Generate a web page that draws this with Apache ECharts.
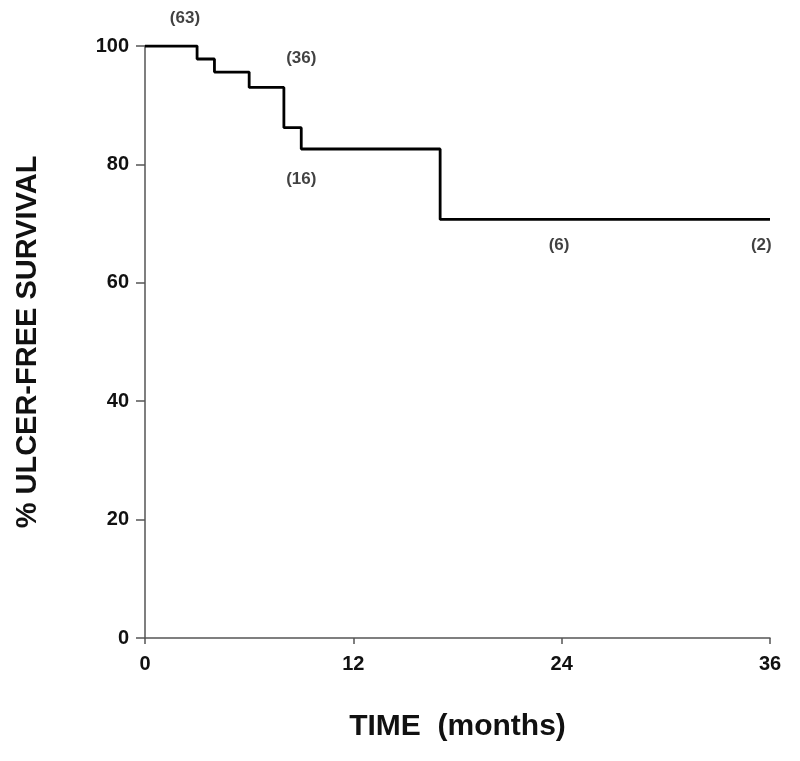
<!DOCTYPE html>
<html>
<head>
<meta charset="utf-8">
<script src="https://cdn.jsdelivr.net/npm/echarts@6/dist/echarts.min.js"></script>
<style>html,body{margin:0;padding:0;background:#fff}#c{width:800px;height:761px}</style>
</head>
<body>
<div id="c"></div>
<script>
// Kaplan-Meier step data (months, % ulcer-free)
const stepTimes = [0, 3, 4, 6, 8, 9, 17, 36];
const stepValues = [100, 97.8, 95.6, 93.0, 86.2, 82.6, 70.7, 70.7];
// Number-at-risk annotations
const atRiskTimes = [2.3, 9.0, 9.0, 23.85, 35.5];
const atRiskLevels = [104.6, 97.9, 77.4, 66.3, 66.3];
const atRiskCounts = ['(63)', '(36)', '(16)', '(6)', '(2)'];
const xTicks = [0, 12, 24, 36];

const font = '"Liberation Sans", Arial, Helvetica, sans-serif';
const chart = echarts.init(document.getElementById('c'));
chart.setOption({
  animation: false,
  backgroundColor: '#fff',
  grid: { left: 145, right: 30, top: 46, bottom: 123 },
  xAxis: {
    type: 'value', min: 0, max: 36, interval: 12,
    name: 'TIME  (months)', nameLocation: 'middle', nameGap: 74,
    nameTextStyle: { fontFamily: font, fontSize: 30, fontWeight: 'bold', color: '#111' },
    axisLine: { lineStyle: { color: '#555', width: 1.5 } },
    axisTick: { length: 6, lineStyle: { color: '#555', width: 1.5 } },
    axisLabel: { margin: 16, fontFamily: font, fontSize: 20, fontWeight: 'bold', color: '#111' },
    splitLine: { show: false }
  },
  yAxis: {
    type: 'value', min: 0, max: 100, interval: 20,
    name: '% ULCER-FREE SURVIVAL', nameLocation: 'middle', nameGap: 103,
    nameTextStyle: { fontFamily: font, fontSize: 29, fontWeight: 'bold', color: '#111' },
    axisLine: { show: true, lineStyle: { color: '#555', width: 1.5 } },
    axisTick: { show: true, length: 9, lineStyle: { color: '#555', width: 1.5 } },
    axisLabel: { margin: 16, fontFamily: font, fontSize: 20, fontWeight: 'bold', color: '#111' },
    splitLine: { show: false }
  },
  series: [
    {
      type: 'line', step: 'end', symbol: 'none',
      data: stepTimes.map((t, i) => [t, stepValues[i]]),
      lineStyle: { color: '#000', width: 2.8 }
    },
    {
      type: 'scatter', symbolSize: 0, clip: false, silent: true,
      data: atRiskTimes.map((t, i) => ({ value: [t, atRiskLevels[i]], name: atRiskCounts[i] })),
      label: {
        show: true, position: 'inside', formatter: p => p.name,
        fontFamily: font, fontSize: 17, fontWeight: 'bold', color: '#111'
      }
    }
  ]
});
</script>
</body>
</html>
